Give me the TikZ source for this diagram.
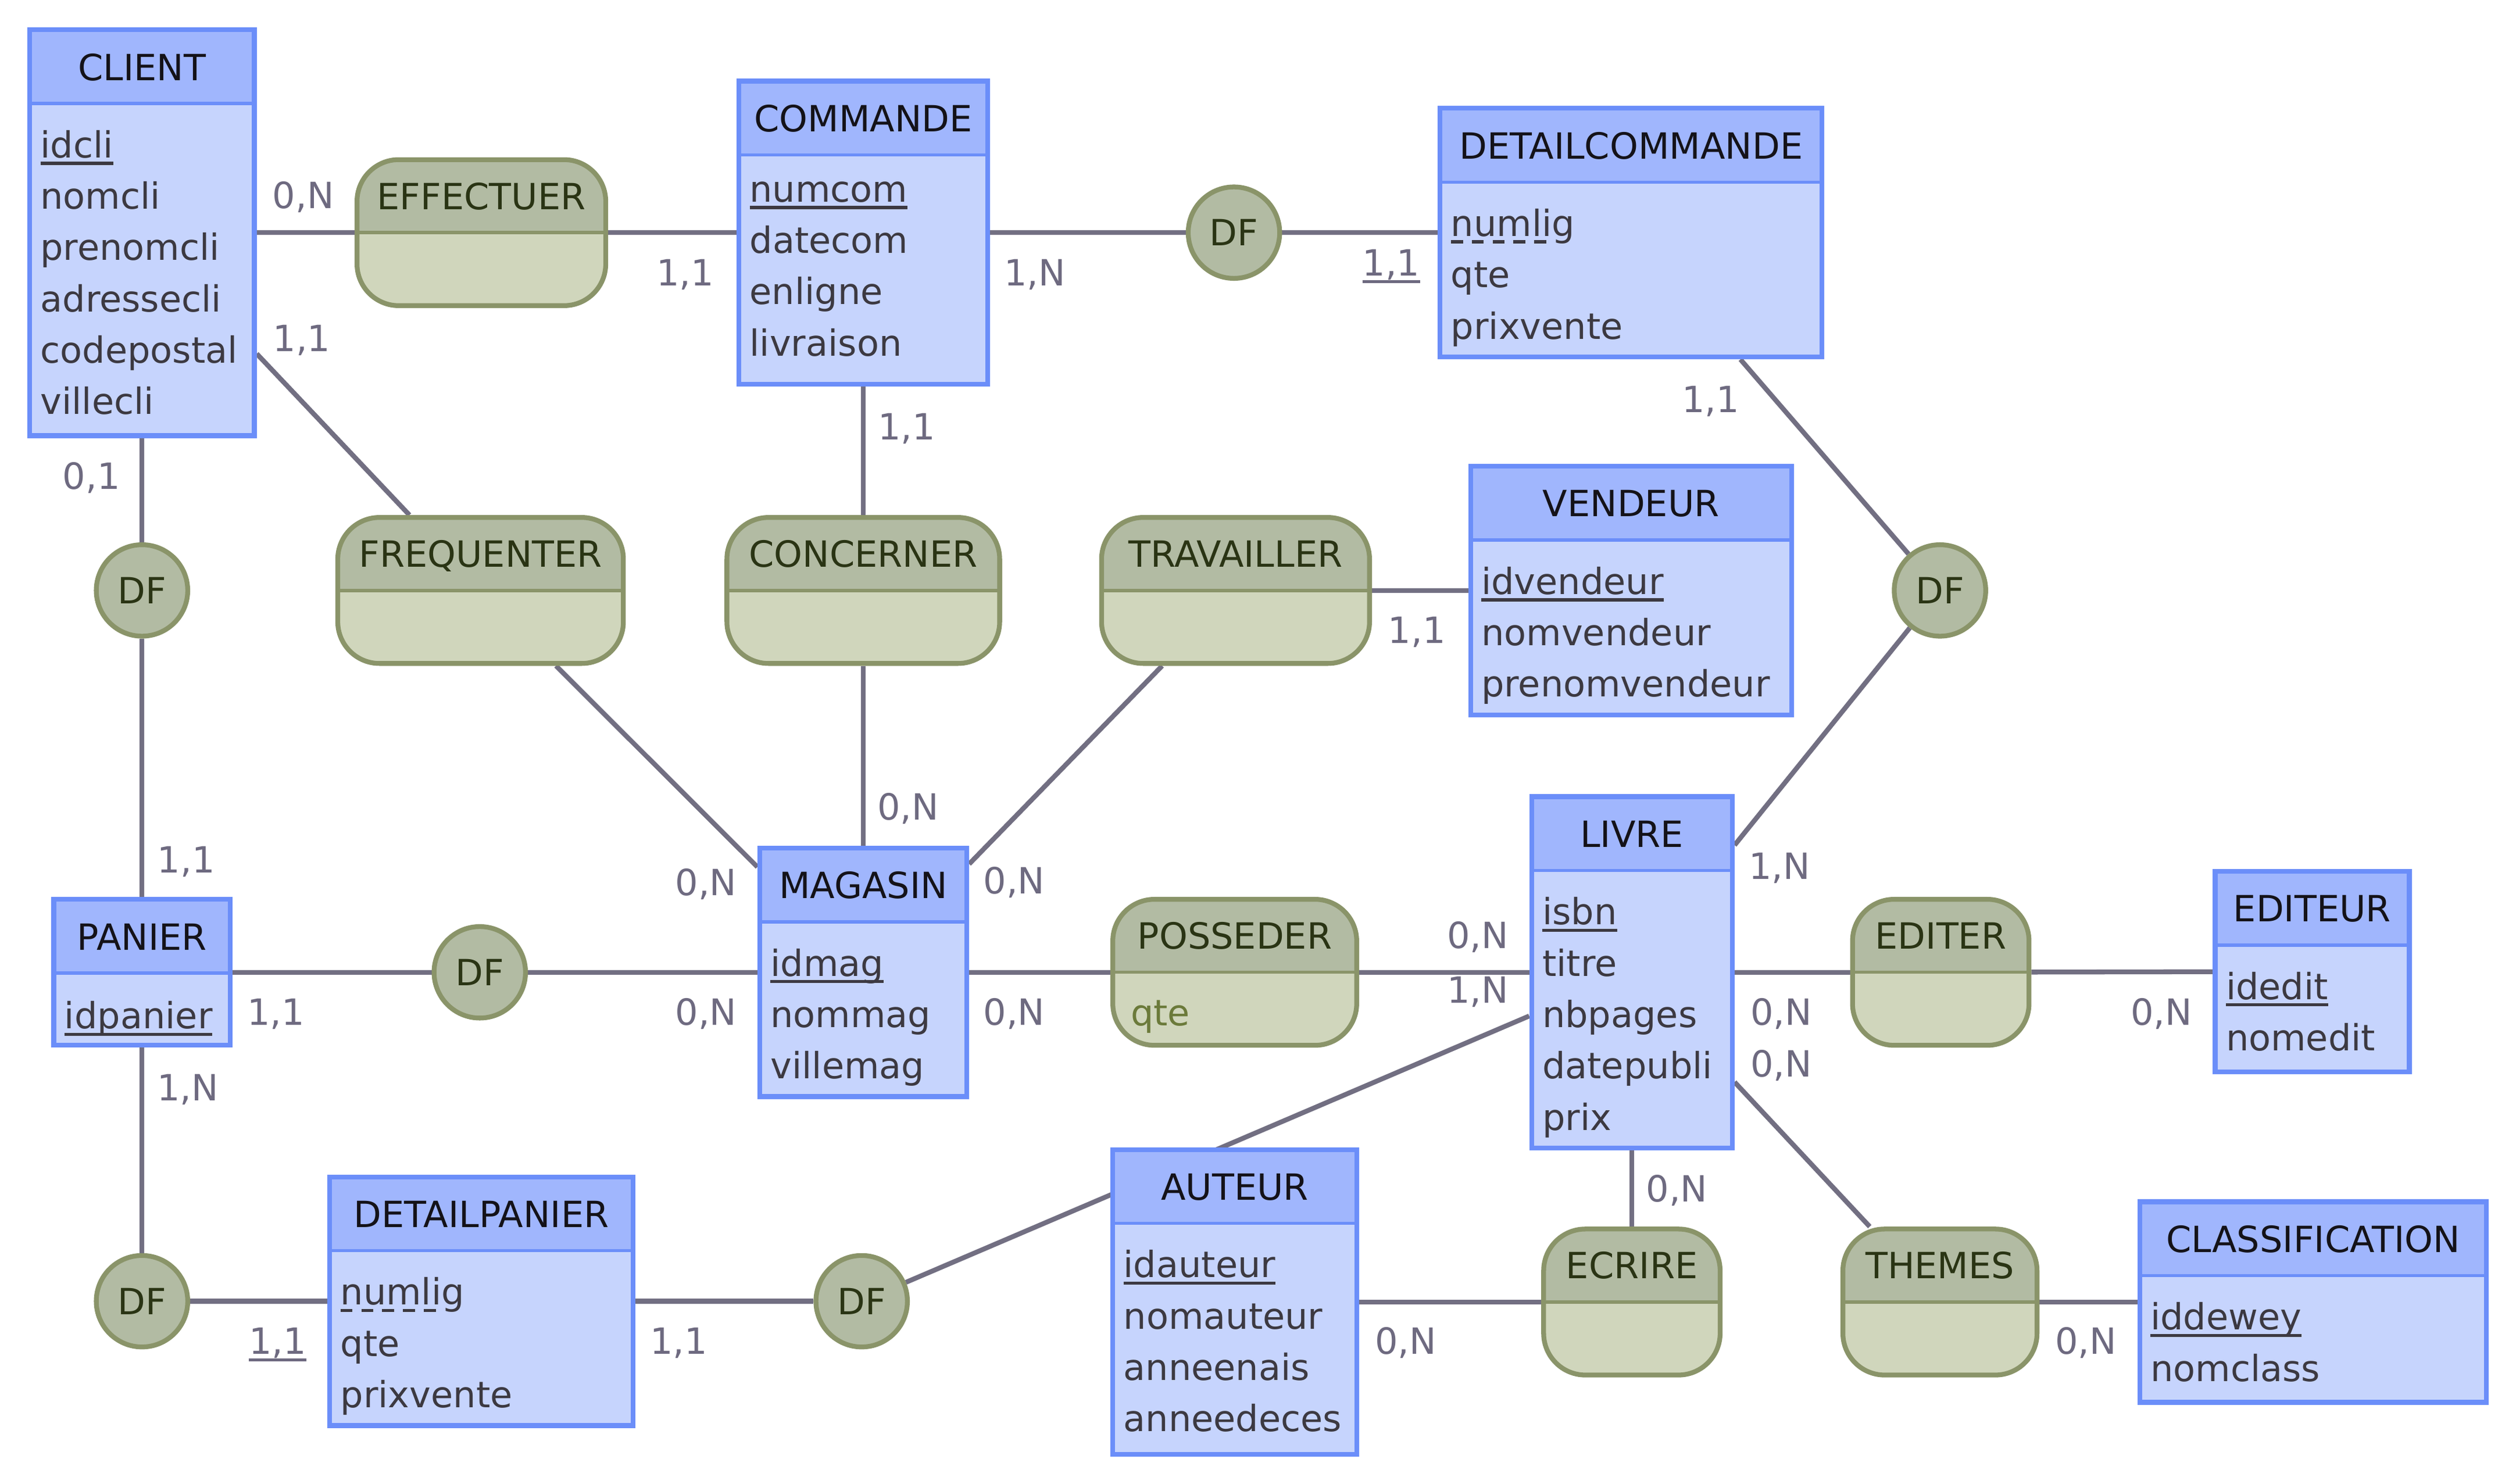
\documentclass[tikz,border=0pt]{standalone}
\usepackage{fontspec}
\setmainfont{DejaVu Sans}
\usetikzlibrary{backgrounds}

\definecolor{entline}{HTML}{6B8EF9}
\definecolor{enthead}{HTML}{A0B6FD}
\definecolor{entbody}{HTML}{C6D4FD}
\definecolor{assline}{HTML}{8A9469}
\definecolor{asshead}{HTML}{B2BBA3}
\definecolor{assbody}{HTML}{D0D6BC}
\definecolor{linkc}{HTML}{726F82}
\definecolor{cardtxt}{HTML}{6E6A80}
\definecolor{attrtxt}{HTML}{3C3941}
\definecolor{titletxt}{HTML}{141218}
\definecolor{asstxt}{HTML}{2A3414}
\definecolor{qtetxt}{HTML}{6B7A3A}

\newsavebox{\ulbox}
\newcommand{\keyul}[1]{\sbox{\ulbox}{#1}\rlap{\rule[-4.5pt]{\wd\ulbox}{2pt}}\usebox{\ulbox}}
\newcommand{\keydul}[1]{\sbox{\ulbox}{#1}\rlap{\hbox to \wd\ulbox{\leaders\hbox to 13pt{\rule[-4.5pt]{7.5pt}{2pt}\hss}\hfill}}\usebox{\ulbox}}

\tikzset{
    entity/.style={draw=entline, fill=entbody, line width=3pt, inner sep=0pt,
        path picture={
            \fill[enthead, sharp corners] (path picture bounding box.north west) rectangle ([yshift=-46pt]path picture bounding box.north east);
            \draw[entline, line width=2pt] ([yshift=-46pt]path picture bounding box.north west) -- ([yshift=-46pt]path picture bounding box.north east);
        }},
    assoc/.style={draw=assline, fill=assbody, line width=3pt, rounded corners=26pt, inner sep=0pt, minimum height=91pt,
        path picture={
            \fill[asshead, sharp corners] (path picture bounding box.north west) rectangle (path picture bounding box.east);
            \draw[assline, line width=2pt, sharp corners] (path picture bounding box.west) -- (path picture bounding box.east);
        }},
    dfnode/.style={circle, draw=assline, fill=asshead, line width=3pt, minimum size=57pt, inner sep=0pt, text=asstxt},
    title/.style={anchor=base, inner sep=0pt, text=titletxt},
    atitle/.style={anchor=base, inner sep=0pt, text=asstxt},
    attr/.style={anchor=north west, align=left, inner sep=0pt, text=attrtxt, execute at begin node={\rule{0pt}{18pt}}},
    card/.style={anchor=base, inner sep=0pt, text=cardtxt},
    link/.style={draw=linkc, line width=3pt},
}

\begin{document}
\begin{tikzpicture}[x=1pt, y=-1pt, font=\fontsize{22.5pt}{32pt}\selectfont]
    \useasboundingbox (0,0) rectangle (1568,924.6);

    \node[entity, minimum width=140pt, minimum height=253pt] (client) at (88.5,145) {};
    \node[title] (clientT) at ([yshift=-33pt]client.north) {CLIENT};
    \node[attr] (clientA) at ([xshift=8pt, yshift=-64pt]client.north west) {\keyul{idcli}\\nomcli\\prenomcli\\adressecli\\codepostal\\villecli};

    \node[entity, minimum width=155pt, minimum height=189pt] (commande) at (538,145) {};
    \node[title] (commandeT) at ([yshift=-33pt]commande.north) {COMMANDE};
    \node[attr] (commandeA) at ([xshift=8pt, yshift=-64pt]commande.north west) {\keyul{numcom}\\datecom\\enligne\\livraison};

    \node[entity, minimum width=238pt, minimum height=155pt] (detailcommande) at (1016.5,145) {};
    \node[title] (detailcommandeT) at ([yshift=-33pt]detailcommande.north) {DETAILCOMMANDE};
    \node[attr] (detailcommandeA) at ([xshift=8pt, yshift=-64pt]detailcommande.north west) {\keydul{numlig}\\qte\\prixvente};

    \node[entity, minimum width=200pt, minimum height=155pt] (vendeur) at (1016.5,368) {};
    \node[title] (vendeurT) at ([yshift=-33pt]vendeur.north) {VENDEUR};
    \node[attr] (vendeurA) at ([xshift=8pt, yshift=-64pt]vendeur.north west) {\keyul{idvendeur}\\nomvendeur\\prenomvendeur};

    \node[entity, minimum width=125pt, minimum height=219pt] (livre) at (1017,606) {};
    \node[title] (livreT) at ([yshift=-33pt]livre.north) {LIVRE};
    \node[attr] (livreA) at ([xshift=8pt, yshift=-64pt]livre.north west) {\keyul{isbn}\\titre\\nbpages\\datepubli\\prix};

    \node[entity, minimum width=121pt, minimum height=125pt] (editeur) at (1441,605.5) {};
    \node[title] (editeurT) at ([yshift=-33pt]editeur.north) {EDITEUR};
    \node[attr] (editeurA) at ([xshift=8pt, yshift=-64pt]editeur.north west) {\keyul{idedit}\\nomedit};

    \node[entity, minimum width=216pt, minimum height=125pt] (classification) at (1441.5,811.5) {};
    \node[title] (classificationT) at ([yshift=-33pt]classification.north) {CLASSIFICATION};
    \node[attr] (classificationA) at ([xshift=8pt, yshift=-64pt]classification.north west) {\keyul{iddewey}\\nomclass};

    \node[entity, minimum width=129pt, minimum height=155pt] (magasin) at (538,606) {};
    \node[title] (magasinT) at ([yshift=-33pt]magasin.north) {MAGASIN};
    \node[attr] (magasinA) at ([xshift=8pt, yshift=-64pt]magasin.north west) {\keyul{idmag}\\nommag\\villemag};

    \node[entity, minimum width=110pt, minimum height=91pt] (panier) at (88.5,606) {};
    \node[title] (panierT) at ([yshift=-33pt]panier.north) {PANIER};
    \node[attr] (panierA) at ([xshift=8pt, yshift=-64pt]panier.north west) {\keyul{idpanier}};

    \node[entity, minimum width=189pt, minimum height=155pt] (detailpanier) at (300,811) {};
    \node[title] (detailpanierT) at ([yshift=-33pt]detailpanier.north) {DETAILPANIER};
    \node[attr] (detailpanierA) at ([xshift=8pt, yshift=-64pt]detailpanier.north west) {\keydul{numlig}\\qte\\prixvente};

    \node[entity, minimum width=152pt, minimum height=190pt] (auteur) at (769.5,811.5) {};
    \node[title] (auteurT) at ([yshift=-33pt]auteur.north) {AUTEUR};
    \node[attr] (auteurA) at ([xshift=8pt, yshift=-64pt]auteur.north west) {\keyul{idauteur}\\nomauteur\\anneenais\\anneedeces};

    \node[assoc, minimum width=155pt] (effectuer) at (300,145) {};
    \node[atitle] (effectuerT) at ([yshift=-32.5pt]effectuer.north) {EFFECTUER};
    \node[assoc, minimum width=178pt] (frequenter) at (299.5,368) {};
    \node[atitle] (frequenterT) at ([yshift=-32.5pt]frequenter.north) {FREQUENTER};
    \node[assoc, minimum width=170pt] (concerner) at (538,368) {};
    \node[atitle] (concernerT) at ([yshift=-32.5pt]concerner.north) {CONCERNER};
    \node[assoc, minimum width=167pt] (travailler) at (770,368) {};
    \node[atitle] (travaillerT) at ([yshift=-32.5pt]travailler.north) {TRAVAILLER};
    \node[assoc, minimum width=152pt] (posseder) at (769.5,606) {};
    \node[atitle] (possederT) at ([yshift=-32.5pt]posseder.north) {POSSEDER};
    \node[attr, text=qtetxt] (possederA) at ([xshift=12.5pt, yshift=-62pt]posseder.north west) {qte};
    \node[assoc, minimum width=110pt] (editer) at (1209.5,606) {};
    \node[atitle] (editerT) at ([yshift=-32.5pt]editer.north) {EDITER};
    \node[assoc, minimum width=110pt] (ecrire) at (1017,811.5) {};
    \node[atitle] (ecrireT) at ([yshift=-32.5pt]ecrire.north) {ECRIRE};
    \node[assoc, minimum width=121pt] (themes) at (1209,811.5) {};
    \node[atitle] (themesT) at ([yshift=-32.5pt]themes.north) {THEMES};

    \node[dfnode] (df1) at (88.5,368) {DF};
    \node[dfnode] (df2) at (769,145) {DF};
    \node[dfnode] (df3) at (1209,368) {DF};
    \node[dfnode] (df4) at (299,606) {DF};
    \node[dfnode] (df5) at (88.5,811) {DF};
    \node[dfnode] (df6) at (537,811) {DF};

    \begin{scope}[on background layer]
        \draw[link] (client) to (effectuer);
        \draw[link] (effectuer) to (commande);
        \draw[link] (client) to (frequenter);
        \draw[link] (frequenter) to (magasin);
        \draw[link] (commande) to (concerner);
        \draw[link] (concerner) to (magasin);
        \draw[link] (commande) to (df2);
        \draw[link] (df2) to (detailcommande);
        \draw[link] (detailcommande) to (df3);
        \draw[link] (df3) to (livre);
        \draw[link] (magasin) to (travailler);
        \draw[link] (travailler) to (vendeur);
        \draw[link] (client) to (df1);
        \draw[link] (df1) to (panier);
        \draw[link] (panier) to (df4);
        \draw[link] (df4) to (magasin);
        \draw[link] (magasin) to (posseder);
        \draw[link] (posseder) to (livre);
        \draw[link] (panier) to (df5);
        \draw[link] (df5) to (detailpanier);
        \draw[link] (detailpanier) to (df6);
        \draw[link] (df6) to (livre);
        \draw[link] (livre) to (editer);
        \draw[link] (editer) to (editeur);
        \draw[link] (livre) to (ecrire);
        \draw[link] (ecrire) to (auteur);
        \draw[link] (livre) to (themes);
        \draw[link] (themes) to (classification);
    \end{scope}

    \node[card] (card1) at (189,130) {0,N};
    \node[card] (card2) at (427,178) {1,1};
    \node[card] (card3) at (188,219) {1,1};
    \node[card] (card4) at (440,558) {0,N};
    \node[card] (card5) at (565,274) {1,1};
    \node[card] (card6) at (566,511) {0,N};
    \node[card] (card7) at (645,178) {1,N};
    \node[card] (card8) at (867,172) {\keyul{1,1}};
    \node[card] (card9) at (1066,257) {1,1};
    \node[card] (card10) at (1109,548) {1,N};
    \node[card] (card11) at (632,557) {0,N};
    \node[card] (card12) at (883,401) {1,1};
    \node[card] (card13) at (57,305) {0,1};
    \node[card] (card14) at (116,544) {1,1};
    \node[card] (card15) at (172,639) {1,1};
    \node[card] (card16) at (440,639) {0,N};
    \node[card] (card17) at (632,639) {0,N};
    \node[card] (card18) at (921,591) {0,N};
    \node[card] (card19) at (117,686) {1,N};
    \node[card] (card20) at (173,844) {\keyul{1,1}};
    \node[card] (card21) at (423,844) {1,1};
    \node[card] (card22) at (921,625) {1,N};
    \node[card] (card23) at (1110,639) {0,N};
    \node[card] (card24) at (1347,639) {0,N};
    \node[card] (card25) at (1045,749) {0,N};
    \node[card] (card26) at (876,844) {0,N};
    \node[card] (card27) at (1110,671) {0,N};
    \node[card] (card28) at (1300,844) {0,N};
\end{tikzpicture}
\end{document}
